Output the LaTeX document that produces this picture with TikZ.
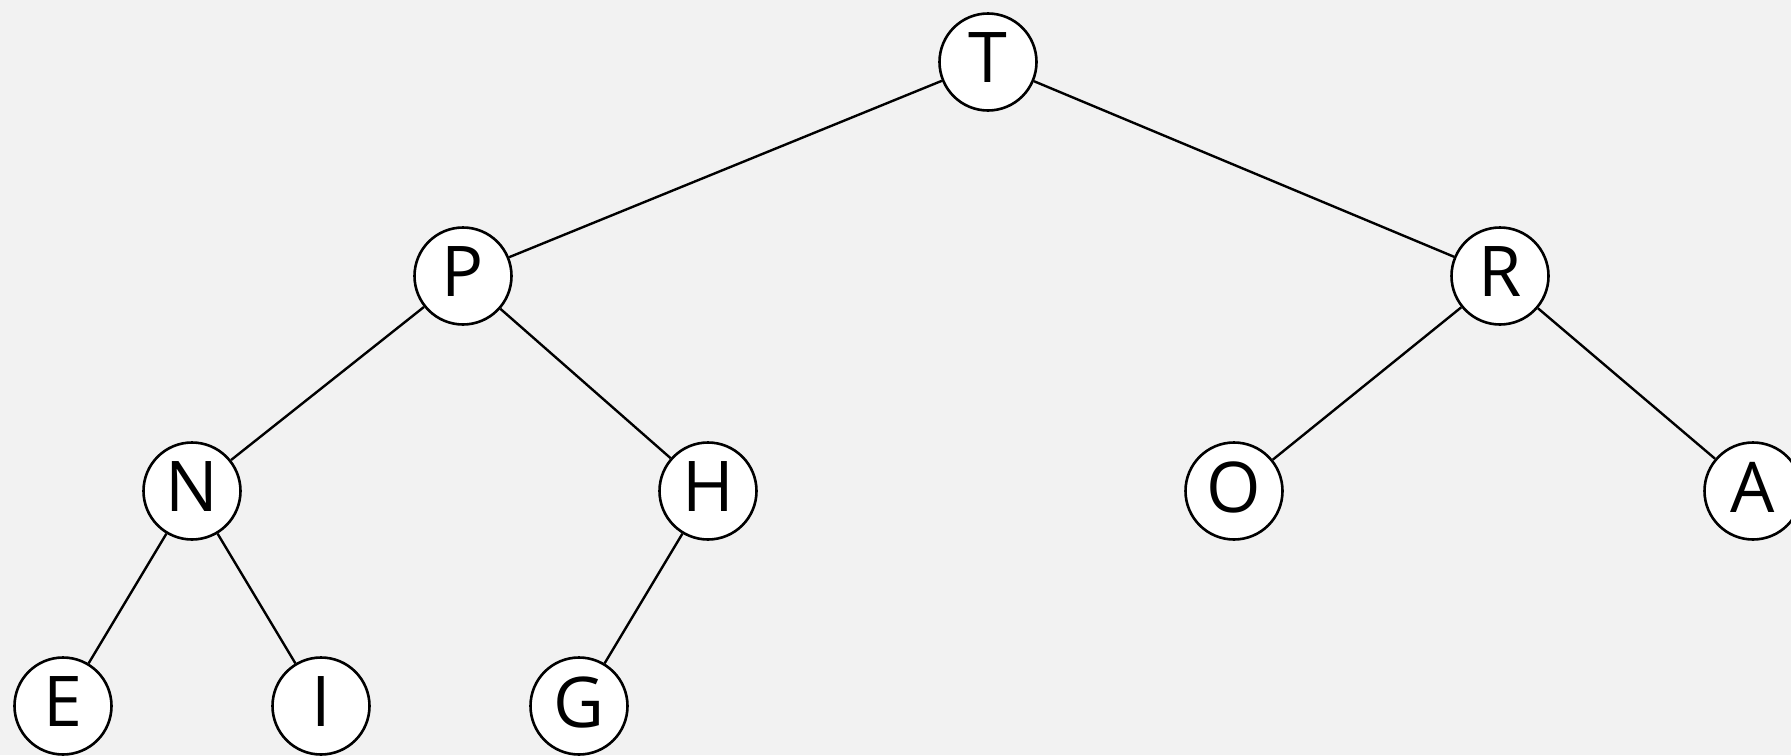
\documentclass[tikz,border=0pt]{standalone}
\usepackage{fontspec}
\setmainfont{Open Sans}
\newcommand{\nodetxt}[1]{\raisebox{4pt}[\height][\depth]{#1}}
\begin{document}
\begin{tikzpicture}[x=1pt,y=-1pt,
  tnode/.style={circle,draw=black,fill=white,line width=2.6pt,minimum size=97pt,inner sep=0pt,font=\fontsize{70}{72}\selectfont},
  edge/.style={line width=2.4pt,draw=black}]
\fill[fill={rgb,255:red,242;green,242;blue,242}] (0,0) rectangle (1791,755);
\useasboundingbox (0,0) rectangle (1791,755);
\node[tnode] (T) at (988,62) {\nodetxt{T}};
\node[tnode] (P) at (463,276) {\nodetxt{P}};
\node[tnode] (R) at (1500,276) {\nodetxt{R}};
\node[tnode] (N) at (192,491) {\nodetxt{N}};
\node[tnode] (H) at (708,491) {\nodetxt{H}};
\node[tnode] (O) at (1234,491) {\nodetxt{O}};
\node[tnode] (A) at (1753,491) {\nodetxt{A}};
\node[tnode] (E) at (63,706) {\nodetxt{E}};
\node[tnode] (I) at (321,706) {\nodetxt{I}};
\node[tnode] (G) at (579,706) {\nodetxt{G}};
\draw[edge] (T) -- (P);
\draw[edge] (T) -- (R);
\draw[edge] (P) -- (N);
\draw[edge] (P) -- (H);
\draw[edge] (R) -- (O);
\draw[edge] (R) -- (A);
\draw[edge] (N) -- (E);
\draw[edge] (N) -- (I);
\draw[edge] (H) -- (G);
\end{tikzpicture}
\end{document}
